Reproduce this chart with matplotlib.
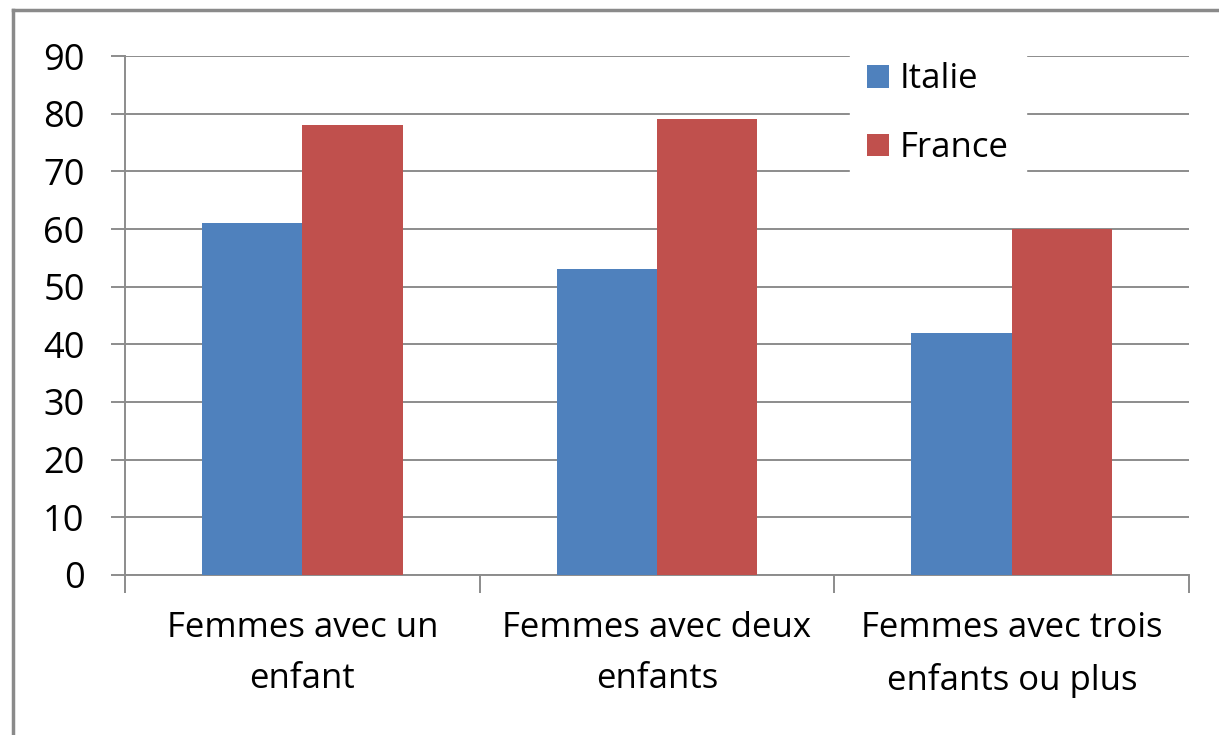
import numpy as np
import matplotlib
matplotlib.use("Agg")
import matplotlib.pyplot as plt
from matplotlib.lines import Line2D

# Données
categories = ["Femmes avec un\nenfant", "Femmes avec deux\nenfants", "Femmes avec trois\nenfants ou plus"]
italie = [61, 53, 42]
france = [78, 79, 60]
series = ["Italie", "France"]
yticks = list(range(0, 100, 10))

plt.rcParams['font.family'] = ['Open Sans', 'DejaVu Sans']

fig = plt.figure(figsize=(12.19, 7.35), dpi=100)
ax = fig.add_axes([0.1025, 0.2177, 0.873, 0.7061])

x = np.arange(len(categories))
w = 0.283
ax.bar(x - w/2, italie, w, color="#4F81BD", label=series[0], zorder=3)
ax.bar(x + w/2, france, w, color="#C0504D", label=series[1], zorder=3)

ax.set_xlim(-0.5, 2.5)
ax.set_ylim(0, 90)
ax.set_yticks(yticks)
ax.yaxis.grid(True, color="#8c8c8c", linewidth=1.4, zorder=0)
ax.tick_params(axis="y", length=10, width=1.4, color="#8c8c8c", labelsize=26, pad=19)

# ticks de l'axe x aux limites des catégories, libellés au centre
ax.set_xticks([-0.5, 0.5, 1.5, 2.5])
ax.set_xticklabels([])
ax.set_xticks(x, minor=True)
ax.set_xticklabels(categories, minor=True, fontsize=25, linespacing=1.65)
ax.tick_params(axis="x", which="major", length=13, width=1.4, color="#8c8c8c")
ax.tick_params(axis="x", which="minor", length=0, pad=26)

for s in ["top", "right"]:
    ax.spines[s].set_visible(False)
for s in ["left", "bottom"]:
    ax.spines[s].set_color("#8c8c8c")
    ax.spines[s].set_linewidth(1.4)

leg = ax.legend(loc="upper left", bbox_to_anchor=(0.681, 1.021), frameon=True,
                fontsize=25, handlelength=0.63, handleheight=0.63,
                labelspacing=1.0, handletextpad=0.3, borderpad=0.5,
                borderaxespad=0)
leg.get_frame().set_facecolor("white")
leg.get_frame().set_edgecolor("white")
leg.get_frame().set_alpha(1)
leg.get_frame().set_boxstyle("square", pad=0)
leg.set_zorder(5)

# cadre autour de la figure (coupé à droite et en bas)
fig.add_artist(Line2D([13/1219, 1.0], [1 - 10/735, 1 - 10/735], color="#8a8a8a", linewidth=2.5))
fig.add_artist(Line2D([13/1219, 13/1219], [0.0, 1 - 10/735], color="#8a8a8a", linewidth=2.5))

fig.savefig("out.png", dpi=100)
